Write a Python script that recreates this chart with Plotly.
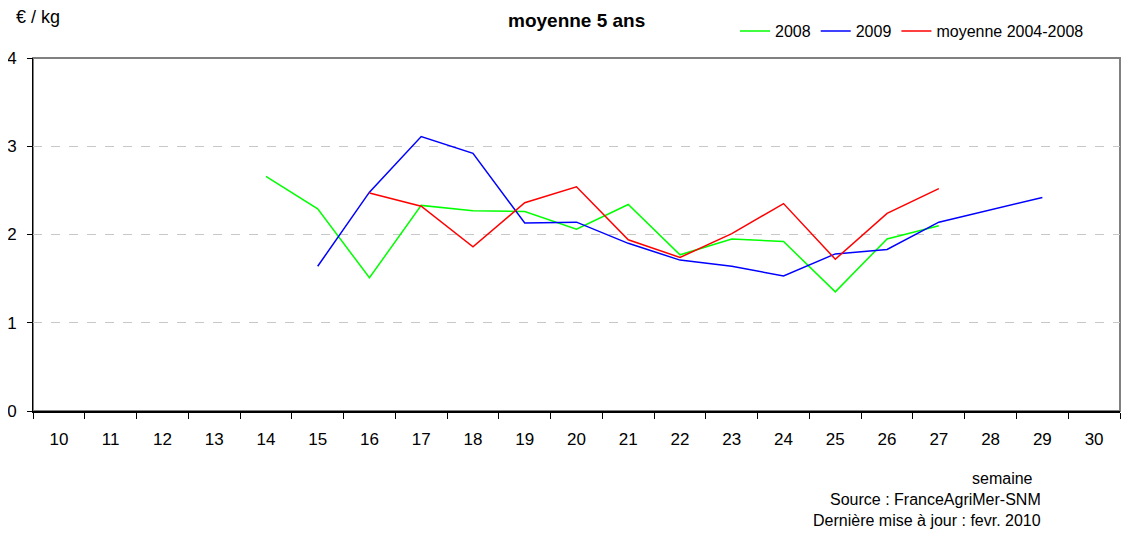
import plotly.graph_objects as go

# semaines
semaines = [str(s) for s in range(10, 31)]

# prix en €/kg (None = pas de cotation)
prix_2008 = [None, None, None, None, 2.66, 2.29, 1.51, 2.33, 2.27, 2.26, 2.06,
             2.34, 1.77, 1.95, 1.92, 1.35, 1.95, 2.10, None, None, None]
prix_2009 = [None, None, None, None, None, 1.64, 2.48, 3.11, 2.92, 2.13, 2.14,
             1.90, 1.71, 1.64, 1.53, 1.78, 1.83, 2.14, None, 2.42, None]
moyenne_5ans = [None, None, None, None, None, None, 2.47, 2.32, 1.86, 2.36, 2.54,
                1.94, 1.74, 2.01, 2.35, 1.72, 2.24, 2.52, None, None, None]

font_family = "Liberation Sans, Arial, sans-serif"

fig = go.Figure()
fig.add_trace(go.Scatter(x=semaines, y=prix_2008, name="2008", mode="lines",
                         line=dict(color="#00FF00", width=1.5)))
fig.add_trace(go.Scatter(x=semaines, y=prix_2009, name="2009", mode="lines",
                         connectgaps=True, line=dict(color="#0000FF", width=1.5)))
fig.add_trace(go.Scatter(x=semaines, y=moyenne_5ans, name="moyenne 2004-2008", mode="lines",
                         line=dict(color="#FF0000", width=1.5)))

# la page ajoute une marge de 8 px : figure un peu plus petite
fig.update_layout(
    width=1122, height=525,
    margin=dict(l=25, r=10, t=50, b=122, autoexpand=False),
    paper_bgcolor="white", plot_bgcolor="white",
    font=dict(family=font_family, size=16, color="black"),
    showlegend=True,
    legend=dict(orientation="h", x=0.9715, xanchor="right",
                yref="container", y=0.956, yanchor="middle",
                font=dict(size=16), bgcolor="rgba(0,0,0,0)"),
)

fig.update_xaxes(
    type="category", range=[-0.5, 20.5], tickson="boundaries",
    ticks="outside", ticklen=6, tickcolor="black",
    showline=True, linecolor="black", linewidth=1.5,
    showgrid=False, ticklabelstandoff=12, automargin=False,
    tickfont=dict(size=17),
)
fig.update_yaxes(
    range=[0, 4], dtick=1, ticks="outside", ticklen=5, tickcolor="black",
    showline=True, linecolor="black", linewidth=1,
    showgrid=True, gridcolor="#C8C8C8", griddash="dash", gridwidth=1,
    zeroline=False, tickfont=dict(size=17), ticklabelstandoff=7, automargin=False,
)

# cadre gris du graphique
fig.add_shape(type="rect", xref="paper", yref="paper", x0=0, y0=0, x1=1, y1=1,
              line=dict(color="#808080", width=2), layer="below")

fig.add_annotation(text="<b>moyenne 5 ans</b>", xref="paper", yref="paper",
                   x=0.5, y=1.1416, yanchor="top", showarrow=False,
                   font=dict(size=19))
fig.add_annotation(text="€ / kg", xref="paper", yref="paper",
                   x=0.0046, y=1.116, xanchor="center", yanchor="middle",
                   showarrow=False, font=dict(size=18))
fig.add_annotation(text="semaine", xref="paper", yref="paper",
                   x=0.892, y=-0.1926, xanchor="center", yanchor="middle",
                   showarrow=False, font=dict(size=16))
fig.add_annotation(text="Source : FranceAgriMer-SNM", xref="paper", yref="paper",
                   x=0.8307, y=-0.2493, xanchor="center", yanchor="middle",
                   showarrow=False, font=dict(size=16))
fig.add_annotation(text="Dernière mise à jour : fevr. 2010", xref="paper", yref="paper",
                   x=0.8229, y=-0.3088, xanchor="center", yanchor="middle",
                   showarrow=False, font=dict(size=16))

fig.write_html("out.html")
